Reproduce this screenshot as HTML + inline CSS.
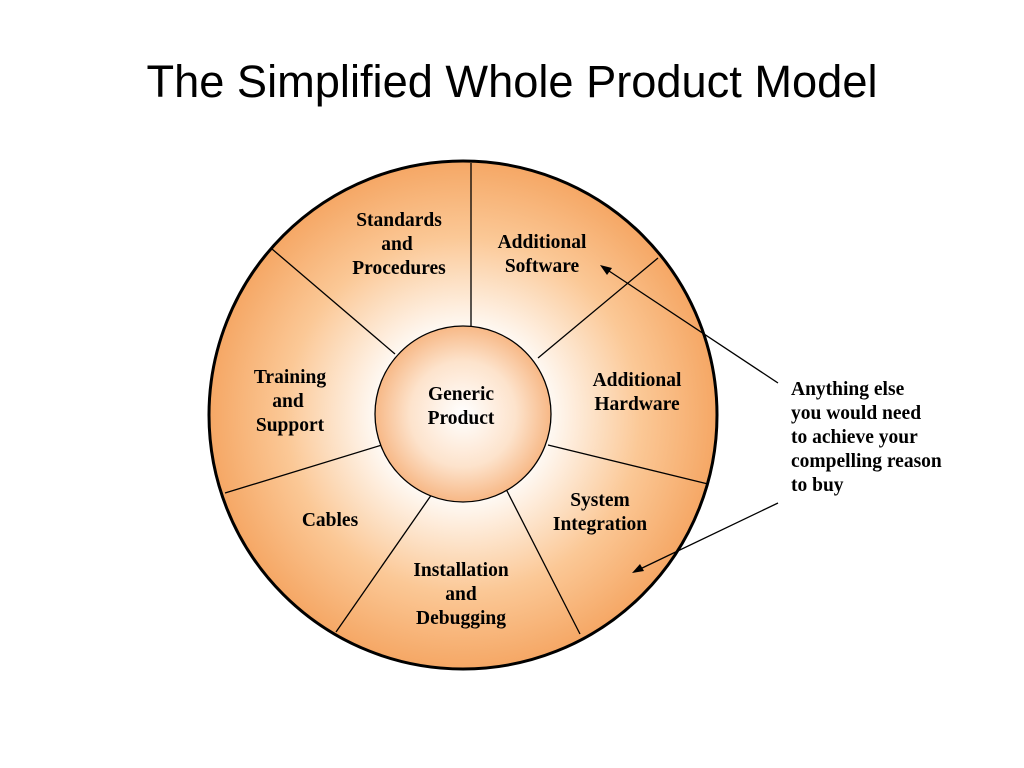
<!DOCTYPE html>
<html><head><style>
html,body{margin:0;padding:0;background:#fff;width:1024px;height:768px;overflow:hidden}
</style></head><body>
<svg width="1024" height="768" xmlns="http://www.w3.org/2000/svg">
<defs>
<radialGradient id="g" cx="463" cy="415" r="254" gradientUnits="userSpaceOnUse">
<stop offset="0.3" stop-color="#ffffff"/>
<stop offset="0.7" stop-color="#fbc896"/>
<stop offset="1" stop-color="#f5a765"/>
</radialGradient>
<radialGradient id="g2" cx="463" cy="414" r="88" gradientUnits="userSpaceOnUse">
<stop offset="0" stop-color="#ffffff"/>
<stop offset="0.6" stop-color="#fde3cc"/>
<stop offset="1" stop-color="#f7b886"/>
</radialGradient>
</defs>
<text x="512" y="97" text-anchor="middle" font-family="Liberation Sans, sans-serif" font-size="45" fill="#000" textLength="731" lengthAdjust="spacingAndGlyphs">The Simplified Whole Product Model</text>
<circle cx="463" cy="415" r="254" fill="url(#g)" stroke="#000" stroke-width="3"/>
<g stroke="#000" stroke-width="1.3">
<line x1="471" y1="163" x2="471" y2="326"/>
<line x1="272" y1="249" x2="395" y2="354"/>
<line x1="658" y1="258" x2="538" y2="358"/>
<line x1="225" y1="493" x2="382" y2="445"/>
<line x1="548" y1="445" x2="708" y2="484"/>
<line x1="336" y1="632" x2="432" y2="494"/>
<line x1="580" y1="634" x2="506" y2="489"/>
<line x1="778" y1="383" x2="606" y2="269"/>
<line x1="778" y1="503" x2="638" y2="570"/>
</g>
<polygon points="600,265 612,268 607,275" fill="#000"/>
<polygon points="632,573 640,564 644,571" fill="#000"/>
<circle cx="463" cy="414" r="88" fill="url(#g2)" stroke="#000" stroke-width="1.3"/>
<g font-family="Liberation Serif, serif" font-weight="bold" font-size="19.5" fill="#000" text-anchor="middle">
<text x="399" y="226">Standards</text><text x="397" y="250">and</text><text x="399" y="274">Procedures</text>
<text x="542" y="248">Additional</text><text x="542" y="272">Software</text>
<text x="290" y="383">Training</text><text x="288" y="407">and</text><text x="290" y="431">Support</text>
<text x="461" y="400">Generic</text><text x="461" y="424">Product</text>
<text x="637" y="386">Additional</text><text x="637" y="410">Hardware</text>
<text x="330" y="526">Cables</text>
<text x="600" y="506">System</text><text x="600" y="530">Integration</text>
<text x="461" y="576">Installation</text><text x="461" y="600">and</text><text x="461" y="624">Debugging</text>
</g>
<g font-family="Liberation Serif, serif" font-weight="bold" font-size="19.5" fill="#000">
<text x="791" y="395">Anything else</text>
<text x="791" y="419">you would need</text>
<text x="791" y="443">to achieve your</text>
<text x="791" y="467">compelling reason</text>
<text x="791" y="491">to buy</text>
</g>
</svg>
</body></html>
